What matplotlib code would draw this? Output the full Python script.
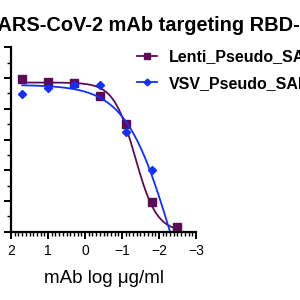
import numpy as np
import matplotlib
matplotlib.use('Agg')
import matplotlib.pyplot as plt
from matplotlib.ticker import MultipleLocator

plt.rcParams['font.family'] = ['Liberation Sans', 'DejaVu Sans']

# Data (log10 of 5-fold dilutions)
log_conc = [1.70, 1.00, 0.30, -0.40, -1.10, -1.80, -2.49]
lenti = [99.0, 97.5, 96.5, 88.5, 70.0, 19.5, 3.0]
vsv = [89.5, 93.5, 95.5, 95.5, 65.0, 40.0, -12.0]

# 4PL fit parameters (top, bottom, logIC50, hill) estimated from the curves
lenti_fit = [97.0, 0.0, -1.357, 1.49]
vsv_fit = [95.5, -100.0, -2.33, 0.70]

labels = ['Lenti_Pseudo_SARS-CoV-2', 'VSV_Pseudo_SARS-CoV-2']
colors = ['#5E0B55', '#1030FF']


def four_pl(x, top, bottom, logic50, hill):
    return bottom + (top - bottom) / (1 + 10 ** ((logic50 - x) * hill))


fig = plt.figure(figsize=(3, 3), dpi=100)
ax = fig.add_axes([0.037, 0.227, 0.616, 0.616])

xs = np.linspace(1.70, -2.49, 300)

# Lenti curve + points
ax.plot(xs, four_pl(xs, *lenti_fit), color=colors[0], lw=1.3)
ax.plot(log_conc, lenti, 's', color=colors[0], ms=6, label=labels[0])

# VSV curve + points
ax.plot(xs, four_pl(xs, *vsv_fit), color=colors[1], lw=1.3)
ax.plot(log_conc, vsv, 'D', color=colors[1], ms=4, label=labels[1])

ax.set_xlim(2, -3)
ax.set_ylim(0, 120)
ax.xaxis.set_major_locator(MultipleLocator(1))
ax.xaxis.set_minor_locator(MultipleLocator(0.1))
ax.yaxis.set_major_locator(MultipleLocator(20))
ax.yaxis.set_minor_locator(MultipleLocator(10))
ax.spines['top'].set_visible(False)
ax.spines['right'].set_visible(False)
for s in ['left', 'bottom']:
    ax.spines[s].set_linewidth(1.6)
ax.tick_params(which='major', length=5, width=1.4, labelsize=10, pad=3.5)
ax.tick_params(which='minor', length=3, width=1.0)

ax.set_xlabel('mAb log \u03bcg/ml', fontsize=13.5, labelpad=9)

# Legend (line + marker handles)
handles = [
    plt.Line2D([], [], color=colors[0], marker='s', ms=5, lw=1.3),
    plt.Line2D([], [], color=colors[1], marker='D', ms=3.5, lw=1.3),
]
fig.legend(handles, labels, loc='upper left', bbox_to_anchor=(0.41, 0.884),
           frameon=False, prop={'size': 11.5, 'weight': 'bold'},
           handlelength=1.2, handletextpad=0.75, labelspacing=0.72)

fig.text(-0.052, 0.915, 'SARS-CoV-2 mAb targeting RBD-', fontsize=14.4,
         fontweight='bold', ha='left', va='center')

fig.savefig('out.png', dpi=100)
